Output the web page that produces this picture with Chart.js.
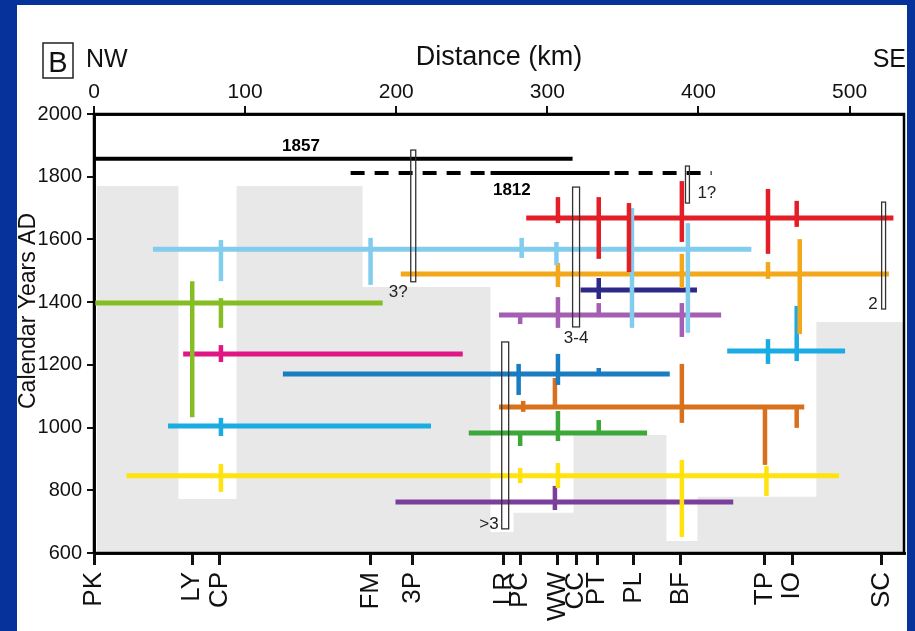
<!DOCTYPE html>
<html>
<head>
<meta charset="utf-8">
<script src="https://cdn.jsdelivr.net/npm/chart.js@4.4.1/dist/chart.umd.min.js"></script>
<style>
  html, body { margin: 0; padding: 0; background: #06339b; }
  canvas { display: block; }
</style>
</head>
<body>
<canvas id="chart" width="915" height="631"></canvas>
<script>
// ---- Sites along the transect (km from the NW end) ----
const siteNames = ['PK', 'LY', 'CP', 'FM', '3P', 'LR', 'PC', 'WW', 'CC', 'PT', 'PL', 'BF', 'TP', 'IO', 'SC'];
const siteKm    = [0, 65, 83, 183, 211, 271, 282, 307, 319, 333, 357, 388, 444, 462, 521];

// ---- Axis ticks ----
const distanceTicks = [0, 100, 200, 300, 400, 500];
const yearTicks = [600, 800, 1000, 1200, 1400, 1600, 1800, 2000];

// ---- Historic ruptures: [from km, to km, year AD, label km] ----
const rupture1857       = [0, 316.7, 1857, 137];
const rupture1812Dashed = [169.8, 408.7, 1812, 276.5];
const rupture1812Solid  = [262.4, 341.2, 1812];

// ---- Extent of the dated record (grey): start km of each step and its top year ----
const recordKm  = [2, 55.9, 94.3, 177.7, 262.4, 277.6, 317.3, 378.8, 399.3, 478, 536];
const recordTop = [1770, 772, 1770, 1448, 667, 728, 976, 638, 779, 1337, 1337];

// ---- Prehistoric ruptures: year AD and along-strike extent (km) ----
const eventYears = [1668, 1569, 1490, 1439, 1359, 1397, 1235, 1171, 1066, 983, 1005, 1244, 846, 763];
const eventFrom  = [286, 39, 203, 322, 268, 0, 59, 125, 268, 248, 49, 419, 21.5, 199.5];
const eventTo    = [529, 435, 526, 399, 415, 191, 244, 381, 470, 366, 223, 497, 493, 423];

// ---- Site age ranges for each rupture: [km, youngest AD, oldest AD] ----
const eventRanges = [
  [[307, 1652, 1735], [334, 1538, 1735], [354, 1496, 1716], [389, 1592, 1786], [446, 1554, 1761], [465, 1640, 1723]],
  [[84, 1467, 1598], [183, 1455, 1605], [283, 1541, 1605], [306, 1518, 1592], [356, 1318, 1700], [393, 1302, 1652]],
  [[307, 1448, 1525], [389, 1445, 1554], [446, 1474, 1528], [467, 1298, 1601]],
  [[334, 1410, 1477]],
  [[282, 1330, 1359], [307, 1318, 1416], [334, 1359, 1397], [389, 1289, 1397]],
  [[65, 1033, 1467], [84, 1318, 1413]],
  [[84, 1209, 1263]],
  [[281, 1104, 1203], [307, 1136, 1235], [334, 1171, 1190]],
  [[284, 1050, 1085], [305, 1066, 1158], [389, 1015, 1203], [444, 881, 1066], [465, 999, 1066]],
  [[282, 941, 983], [307, 957, 1053], [334, 983, 1024]],
  [[84, 973, 1031]],
  [[446, 1203, 1282], [465, 1212, 1388]],
  [[84, 795, 884], [282, 823, 871], [307, 807, 887], [389, 651, 897], [445, 782, 877]],
  [[305, 737, 814]]
];

// ---- Counts of events recorded at individual sites (outlined boxes) ----
const boxKm     = [[209.6, 212.9], [391.4, 394.0], [316.7, 321.3], [521.2, 523.8], [269.8, 274.4]];
const boxYears  = [[1465, 1885], [1716, 1834], [1321, 1767], [1378, 1719], [677, 1273]];
const boxLabels = ['3?', '1?', '3-4', '2', '>3'];

// ---- Styling ----
const eventColors = ['#e41e26', '#82ccee', '#f3a81b', '#2d2a87', '#a45fb2', '#86bd24', '#df1683',
                     '#1a7cc1', '#d9701c', '#3ca83a', '#1aabe3', '#1aabe3', '#ffe20f', '#7a3f9b'];
const boxLabelAlign = ['right', 'left', 'center', 'right', 'right'];
const boxLabelDx = [-3, 8, 0, -4, -3];
const boxLabelDy = [15, -5, 16, 0, 0];

const SANS = "'Liberation Sans', Arial, sans-serif";
const INK = '#111111';

const seg = (x1, y1, x2, y2) => [{ x: x1, y: y1 }, { x: x2, y: y2 }];
const datasets = [];

// grey record extent, drawn behind everything
datasets.push({
  data: recordKm.map((k, i) => ({ x: k, y: recordTop[i] })),
  stepped: true,
  fill: 'start',
  backgroundColor: '#e8e8e8',
  borderColor: 'rgba(0,0,0,0)',
  borderWidth: 0,
  order: 100
});

// 1857 and 1812 ruptures
datasets.push({ data: seg(rupture1857[0], rupture1857[2], rupture1857[1], rupture1857[2]),
  borderColor: '#000', borderWidth: 4, order: 40 });
datasets.push({ data: seg(rupture1812Dashed[0], rupture1812Dashed[2], rupture1812Dashed[1], rupture1812Dashed[2]),
  borderColor: '#000', borderWidth: 4, borderDash: [14, 10], order: 40 });
datasets.push({ data: seg(rupture1812Solid[0], rupture1812Solid[2], rupture1812Solid[1], rupture1812Solid[2]),
  borderColor: '#000', borderWidth: 4, order: 40 });

// prehistoric ruptures and their site age ranges
eventYears.forEach((yr, i) => {
  datasets.push({ data: seg(eventFrom[i], yr, eventTo[i], yr),
    borderColor: eventColors[i], borderWidth: 5, order: 50 });
  eventRanges[i].forEach(([km, lo, hi]) => {
    datasets.push({ data: seg(km, lo, km, hi), borderColor: eventColors[i], borderWidth: 4.5, order: 20 });
  });
});

const decor = {
  id: 'decor',
  beforeDraw(chart) {
    const ctx = chart.ctx;
    ctx.save();
    ctx.fillStyle = '#ffffff';
    ctx.fillRect(17, 5, 890, 626);
    ctx.restore();
  },
  afterDatasetsDraw(chart) {
    const { ctx, chartArea: a, scales: { x, y } } = chart;
    ctx.save();

    // outlined site boxes
    ctx.strokeStyle = '#333';
    ctx.lineWidth = 1.3;
    ctx.fillStyle = '#222';
    ctx.font = '17px ' + SANS;
    boxKm.forEach((k, i) => {
      const x1 = x.getPixelForValue(k[0]), x2 = x.getPixelForValue(k[1]);
      const yTop = y.getPixelForValue(boxYears[i][1]), yBot = y.getPixelForValue(boxYears[i][0]);
      ctx.strokeRect(x1, yTop, x2 - x1, yBot - yTop);
      ctx.textAlign = boxLabelAlign[i];
      ctx.textBaseline = 'alphabetic';
      const tx = boxLabelAlign[i] === 'right' ? x1 : boxLabelAlign[i] === 'left' ? x2 : (x1 + x2) / 2;
      ctx.fillText(boxLabels[i], tx + boxLabelDx[i], yBot + boxLabelDy[i]);
    });

    // rupture year labels
    ctx.fillStyle = '#000';
    ctx.font = 'bold 17px ' + SANS;
    ctx.textAlign = 'center';
    ctx.fillText(String(rupture1857[2]), x.getPixelForValue(rupture1857[3]), y.getPixelForValue(rupture1857[2]) - 8);
    ctx.fillText(String(rupture1812Dashed[2]), x.getPixelForValue(rupture1812Dashed[3]), y.getPixelForValue(rupture1812Dashed[2]) + 22);

    // plot frame
    ctx.strokeStyle = '#000';
    ctx.lineWidth = 2.5;
    ctx.strokeRect(a.left, a.top, a.right - a.left, a.bottom - a.top);

    // titles and panel letter
    ctx.fillStyle = INK;
    ctx.font = '27px ' + SANS;
    ctx.textAlign = 'center';
    ctx.fillText('Distance (km)', (a.left + a.right) / 2, 65);
    ctx.font = '25px ' + SANS;
    ctx.textAlign = 'left';
    ctx.fillText('NW', 86, 67);
    ctx.textAlign = 'right';
    ctx.fillText('SE', 906, 67);
    ctx.lineWidth = 1.5;
    ctx.strokeStyle = '#222';
    ctx.strokeRect(43, 43, 30, 35);
    ctx.font = '29px ' + SANS;
    ctx.textAlign = 'center';
    ctx.fillText('B', 58, 72);

    ctx.translate(35, 311);
    ctx.rotate(-Math.PI / 2);
    ctx.font = '23px ' + SANS;
    ctx.textAlign = 'center';
    ctx.fillText('Calendar Years AD', 0, 0);
    ctx.restore();
  }
};

new Chart(document.getElementById('chart'), {
  type: 'scatter',
  data: { datasets },
  options: {
    responsive: false,
    animation: false,
    events: [],
    devicePixelRatio: 1,
    datasets: { scatter: { showLine: true, pointRadius: 0, borderCapStyle: 'butt', tension: 0 } },
    layout: { padding: { left: 17, top: 5, right: 11, bottom: 0 } },
    plugins: { legend: { display: false }, tooltip: { enabled: false } },
    scales: {
      x: {
        type: 'linear', position: 'bottom', min: 0, max: 536,
        afterBuildTicks: s => { s.ticks = siteKm.map(v => ({ value: v })); },
        ticks: {
          callback: (v, i) => siteNames[i],
          autoSkip: false, minRotation: 90, maxRotation: 90,
          font: { family: SANS, size: 26 }, color: INK, padding: 7
        },
        grid: { drawOnChartArea: false, drawTicks: true, tickLength: 12, color: INK, lineWidth: 3 },
        border: { display: true, color: INK, width: 3 },
        afterFit: s => { s.height = 78; s.paddingLeft = 0; s.paddingRight = 0; }
      },
      xTop: {
        type: 'linear', position: 'top', min: 0, max: 536,
        afterBuildTicks: s => { s.ticks = distanceTicks.map(v => ({ value: v })); },
        ticks: { autoSkip: false, maxRotation: 0, callback: v => String(v),
          font: { family: SANS, size: 21 }, color: INK, padding: 1 },
        grid: { drawOnChartArea: false, drawTicks: true, tickLength: 8, color: INK, lineWidth: 2 },
        border: { display: true, color: INK, width: 3 },
        afterFit: s => { s.height = 109; s.paddingLeft = 0; s.paddingRight = 0; }
      },
      y: {
        type: 'linear', position: 'left', min: 600, max: 2000,
        afterBuildTicks: s => { s.ticks = yearTicks.map(v => ({ value: v })); },
        ticks: { callback: v => String(v), font: { family: SANS, size: 20 }, color: INK, padding: 5 },
        grid: { drawOnChartArea: false, drawTicks: true, tickLength: 7, color: INK, lineWidth: 2 },
        border: { display: true, color: INK, width: 3 },
        afterFit: s => { s.width = 77; s.paddingTop = 0; s.paddingBottom = 0; }
      }
    }
  },
  plugins: [decor]
});
</script>
</body>
</html>
